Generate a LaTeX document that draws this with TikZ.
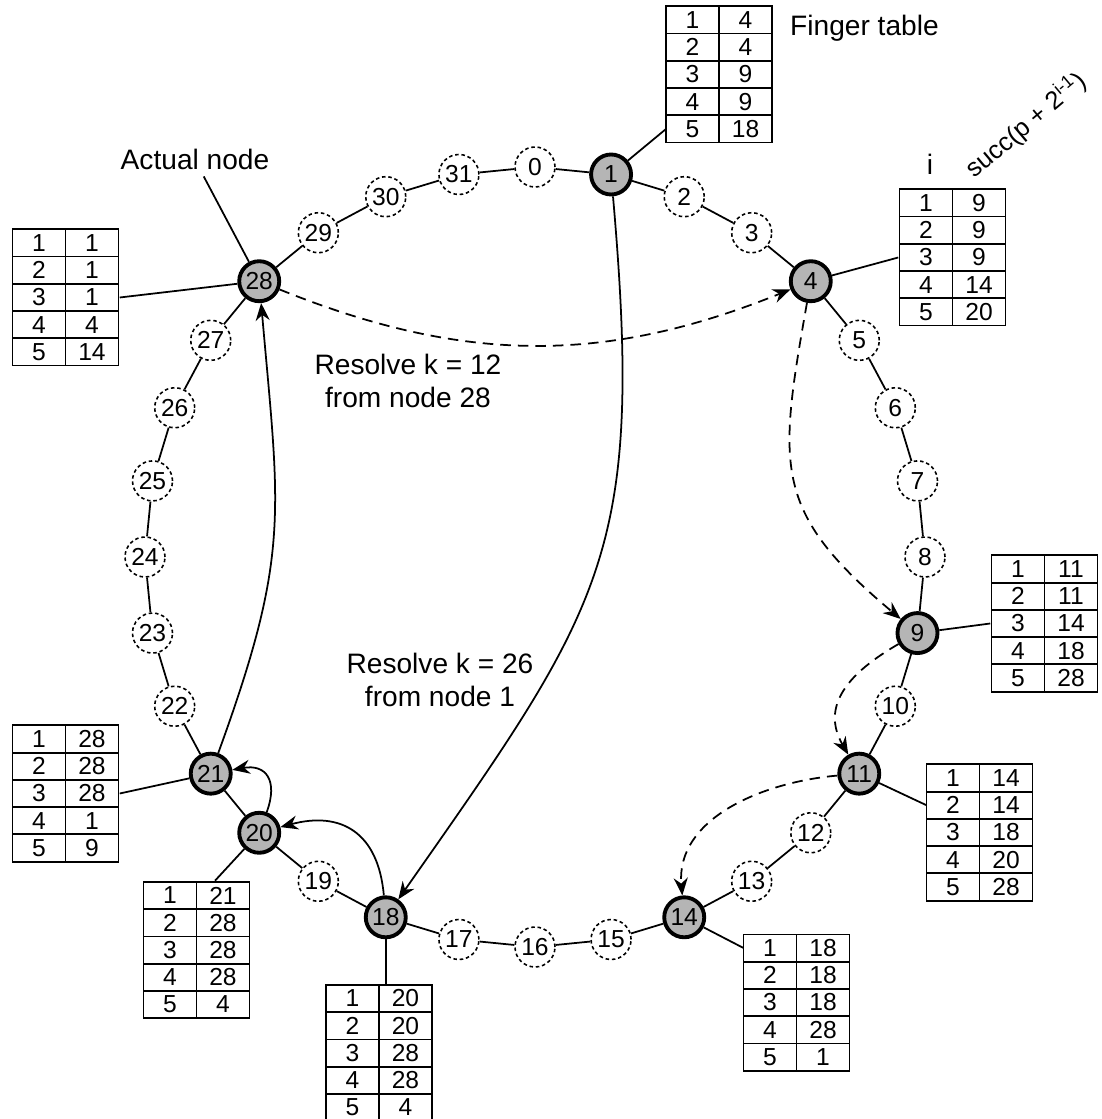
\documentclass[tikz,border=0pt]{standalone}
\usepackage{fontspec}
\setmainfont{Liberation Sans}
\usepackage{tikz}
\usetikzlibrary{arrows.meta,matrix,calc,positioning}

\begin{document}
\begin{tikzpicture}
	\tikzstyle{slot} = [circle, draw = black, line width = 0.9pt, dash pattern = on 2pt off 1.6pt, minimum size = 0.8cm, inner sep = 0pt, font = \fontsize{14}{16}\selectfont]
	\tikzstyle{peer} = [circle, draw = black, line width = 2.2pt, fill = gray!58, minimum size = 0.8cm, inner sep = 0pt, font = \fontsize{14}{16}\selectfont]
	\tikzstyle{finger} = [matrix of nodes, inner sep = 0pt, column sep = -1pt, row sep = -1pt, nodes = {draw = black, line width = 1pt, minimum width = 1.06cm, minimum height = 0.545cm, inner sep = 0pt, outer sep = 0pt, anchor = center, font = \fontsize{14}{16}\selectfont}]
	\tikzstyle{note} = [font = \fontsize{16}{19}\selectfont, align = center]
	\tikzstyle{ring} = [draw, line width = 1pt]
	\tikzstyle{route} = [draw, line width = 1pt, -{Stealth[length = 10pt, width = 8pt]}]
	\tikzstyle{lookup} = [route, dash pattern = on 6pt off 4pt]

	\useasboundingbox (-10.7, -11.24) rectangle (11.32, 11.14);

% identifiers on the ring
\node[slot] (0) at (90:7.8) {0};
\node[peer] (1) at (78.75:7.8) {1};
\node[slot] (2) at (67.5:7.8) {2};
\node[slot] (3) at (56.25:7.8) {3};
\node[peer] (4) at (45:7.8) {4};
\node[slot] (5) at (33.75:7.8) {5};
\node[slot] (6) at (22.5:7.8) {6};
\node[slot] (7) at (11.25:7.8) {7};
\node[slot] (8) at (0:7.8) {8};
\node[peer] (9) at (-11.25:7.8) {9};
\node[slot] (10) at (-22.5:7.8) {10};
\node[peer] (11) at (-33.75:7.8) {11};
\node[slot] (12) at (-45:7.8) {12};
\node[slot] (13) at (-56.25:7.8) {13};
\node[peer] (14) at (-67.5:7.8) {14};
\node[slot] (15) at (-78.75:7.8) {15};
\node[slot] (16) at (-90:7.8) {16};
\node[slot] (17) at (-101.25:7.8) {17};
\node[peer] (18) at (-112.5:7.8) {18};
\node[slot] (19) at (-123.75:7.8) {19};
\node[peer] (20) at (-135:7.8) {20};
\node[peer] (21) at (-146.25:7.8) {21};
\node[slot] (22) at (-157.5:7.8) {22};
\node[slot] (23) at (-168.75:7.8) {23};
\node[slot] (24) at (180:7.8) {24};
\node[slot] (25) at (168.75:7.8) {25};
\node[slot] (26) at (157.5:7.8) {26};
\node[slot] (27) at (146.25:7.8) {27};
\node[peer] (28) at (135:7.8) {28};
\node[slot] (29) at (123.75:7.8) {29};
\node[slot] (30) at (112.5:7.8) {30};
\node[slot] (31) at (101.25:7.8) {31};

	\path[ring] (0) -- (1);
	\path[ring] (1) -- (2);
	\path[ring] (2) -- (3);
	\path[ring] (3) -- (4);
	\path[ring] (4) -- (5);
	\path[ring] (5) -- (6);
	\path[ring] (6) -- (7);
	\path[ring] (7) -- (8);
	\path[ring] (8) -- (9);
	\path[ring] (9) -- (10);
	\path[ring] (10) -- (11);
	\path[ring] (11) -- (12);
	\path[ring] (12) -- (13);
	\path[ring] (13) -- (14);
	\path[ring] (14) -- (15);
	\path[ring] (15) -- (16);
	\path[ring] (16) -- (17);
	\path[ring] (17) -- (18);
	\path[ring] (18) -- (19);
	\path[ring] (19) -- (20);
	\path[ring] (20) -- (21);
	\path[ring] (21) -- (22);
	\path[ring] (22) -- (23);
	\path[ring] (23) -- (24);
	\path[ring] (24) -- (25);
	\path[ring] (25) -- (26);
	\path[ring] (26) -- (27);
	\path[ring] (27) -- (28);
	\path[ring] (28) -- (29);
	\path[ring] (29) -- (30);
	\path[ring] (30) -- (31);
	\path[ring] (31) -- (0);

% finger tables
\matrix[finger] (t1) at (3.68, 9.65) {1 & 4 \\ 2 & 4 \\ 3 & 9 \\ 4 & 9 \\ 5 & 18 \\};
\matrix[finger] (t4) at (8.35, 5.99) {1 & 9 \\ 2 & 9 \\ 3 & 9 \\ 4 & 14 \\ 5 & 20 \\};
\matrix[finger] (t9) at (10.19, -1.33) {1 & 11 \\ 2 & 11 \\ 3 & 14 \\ 4 & 18 \\ 5 & 28 \\};
\matrix[finger] (t11) at (8.89, -5.51) {1 & 14 \\ 2 & 14 \\ 3 & 18 \\ 4 & 20 \\ 5 & 28 \\};
\matrix[finger] (t14) at (5.23, -8.91) {1 & 18 \\ 2 & 18 \\ 3 & 18 \\ 4 & 28 \\ 5 & 1 \\};
\matrix[finger] (t18) at (-3.12, -9.92) {1 & 20 \\ 2 & 20 \\ 3 & 28 \\ 4 & 28 \\ 5 & 4 \\};
\matrix[finger] (t20) at (-6.77, -7.86) {1 & 21 \\ 2 & 28 \\ 3 & 28 \\ 4 & 28 \\ 5 & 4 \\};
\matrix[finger] (t21) at (-9.39, -4.73) {1 & 28 \\ 2 & 28 \\ 3 & 28 \\ 4 & 1 \\ 5 & 9 \\};
\matrix[finger] (t28) at (-9.39, 5.19) {1 & 1 \\ 2 & 1 \\ 3 & 1 \\ 4 & 4 \\ 5 & 14 \\};

\node[note, anchor = base west] (fingertitle) at (4.98, 10.42) {Finger table};
\node[note, anchor = base] (actual) at (-6.8, 7.74) {Actual node};
\node[note, anchor = base] (icol) at (7.9, 7.64) {i};
\node[note, rotate = 40, font = \fontsize{14.5}{17}\selectfont] (succcol) at (9.82, 8.64) {succ(p + 2\textsuperscript{i-1})};
\node[note] (resolve12) at (-2.54, 3.52) {Resolve k = 12\\from node 28};
\node[note] (resolve26) at (-1.9, -2.46) {Resolve k = 26\\from node 1};

	\path[ring] (1) -- (t1-5-1.west);
	\path[ring] (4) -- (t4.west);
	\path[ring] (9) -- (t9.west);
	\path[ring] (11) -- (t11-2-1.west);
	\path[ring] (14) -- (t14-1-1.west);
	\path[ring] (18) -- (18 |- t18.north);
	\path[ring] (20) -- (t20.75);
	\path[ring] (21) -- (t21.east);
	\path[ring] (28) -- (t28.east);
	\path[ring] (actual) -- (28);

	% lookups
	\path[lookup] (28) to[bend right = 22] (4);
	\path[lookup] (4) to[out = -100, in = 140, looseness = 1.3] (9);
	\path[lookup] (9) to[out = 210, in = 120, looseness = 1.2] (11);
	\path[lookup] (11) to[out = 185, in = 95] (14);
	\path[route] (1) to[out = -85, in = 55, looseness = 1.25] (18);
	\path[route] (18) to[out = 95, in = 15, looseness = 1.3] (20);
	\path[route] (20) to[out = 70, in = 10, looseness = 1.6] (21);
	\path[route] (21) to[out = 70, in = -85, looseness = 1.2] (28);
	\end{tikzpicture}
\end{document}
